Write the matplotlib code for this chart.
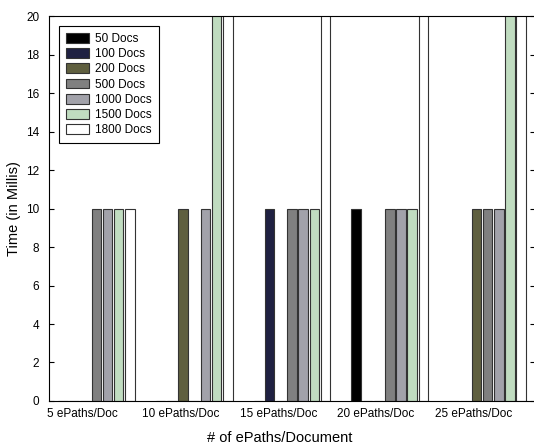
import matplotlib.pyplot as plt
import numpy as np

plt.rcParams['font.family'] = ['Liberation Sans', 'DejaVu Sans']

groups = ['5 ePaths/Doc', '10 ePaths/Doc', '15 ePaths/Doc', '20 ePaths/Doc', '25 ePaths/Doc']
series = ['50 Docs', '100 Docs', '200 Docs', '500 Docs', '1000 Docs', '1500 Docs', '1800 Docs']

# time in millis per document count, one entry per ePaths/Doc group
t_50 = [0, 0, 0, 10, 0]
t_100 = [0, 0, 10, 0, 0]
t_200 = [0, 10, 0, 0, 10]
t_500 = [10, 0, 10, 10, 10]
t_1000 = [10, 10, 10, 10, 10]
t_1500 = [10, 30, 10, 10, 30]
t_1800 = [10, 30, 30, 30, 30]
values = [t_50, t_100, t_200, t_500, t_1000, t_1500, t_1800]

colors = ['#000000', '#1f2142', '#5f5f3f', '#808080', '#a2a2aa', '#c0dcc0', '#ffffff']

fig = plt.figure(figsize=(5.34, 4.46), dpi=100)
ax = fig.add_axes([0.0918, 0.1009, 0.9101, 0.8632])

x = np.arange(len(groups))
step = 0.1145
width = 0.097
for j, (name, vals) in enumerate(zip(series, values)):
    ax.bar(x + (j - 3) * step, vals, width, color=colors[j], edgecolor='#333333',
           linewidth=0.8, label=name)

ax.set_xlim(-0.484, 4.485)
ax.set_ylim(0, 20)
ax.set_yticks(range(0, 21, 2))
ax.set_xticks(x - 0.14)
ax.set_xticklabels(groups)

ax.tick_params(axis='x', length=0, pad=5, labelsize=8.5)
ax.tick_params(axis='y', direction='in', length=3.5, width=0.8, pad=7, labelsize=8.5,
               right=True)
for s in ax.spines.values():
    s.set_linewidth(0.8)

ax.set_xlabel('# of ePaths/Document', fontsize=10.5)
ax.xaxis.set_label_coords(0.475, -0.077)
ax.set_ylabel('Time (in Millis)', fontsize=10.5)
ax.yaxis.set_label_coords(-0.058, 0.5)

leg = ax.legend(loc='upper left', bbox_to_anchor=(10 / 486, 1 - 10 / 385),
                borderaxespad=0, fontsize=8.5, fancybox=False, framealpha=1,
                edgecolor='black', handlelength=1.95, handleheight=0.9,
                handletextpad=0.5, labelspacing=0.27, borderpad=0.6)
leg.get_frame().set_linewidth(0.8)

fig.savefig('out.png', dpi=100)
